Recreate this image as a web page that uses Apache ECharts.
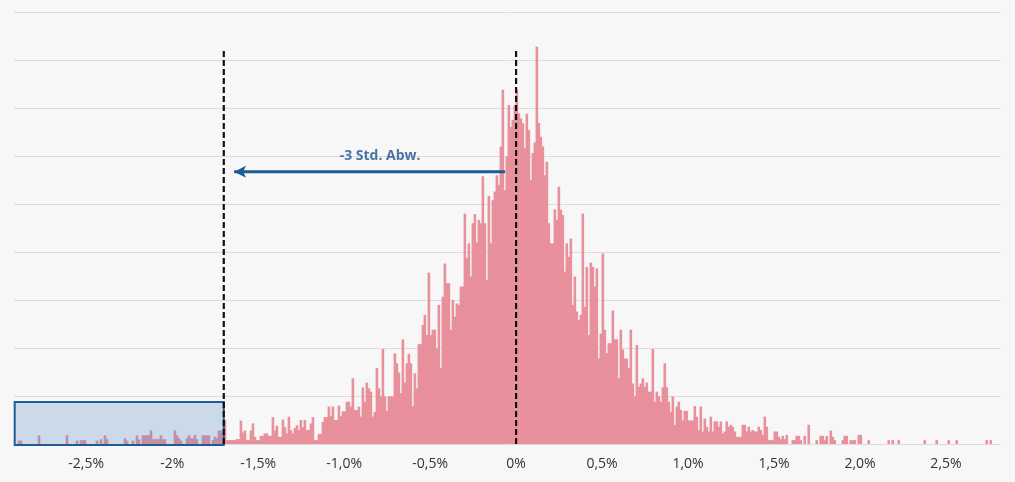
<!DOCTYPE html>
<html><head><meta charset="utf-8">
<script src="https://cdn.jsdelivr.net/npm/echarts@6/dist/echarts.min.js"></script>
<style>html,body{margin:0;padding:0;background:#f7f7f7;}#c{width:1015px;height:482px;}</style>
</head><body><div id="c"></div>
<script>
// Histogram of daily returns (%), uniform bins starting at binStart
const binStart = -2.92;
const binWidth = 0.011628;
const frequency = [
0,0,0.7,0.7,0,0,0,0,0,0,
0,0,1.8,0,0,0,0,0,0,0,
0,0,0,0,0,0,1.8,0,0,0,
0,0.7,0,0.8,0.8,0.8,0,0,0,0,
0,0.7,0,1.0,0,1.8,1.0,0,0,0,
0,0,0,0,0,1.2,0.7,0,0,0.7,
0,1.8,1.0,0,1.8,1.8,1.8,1.8,2.8,1.0,
1.0,1.0,1.0,1.8,1.0,1.0,0,0,0,0,
2.8,1.8,1.2,0.7,0,0,1.2,1.8,1.2,1.2,
1.9,1.0,0,0,1.8,1.8,1.8,1.8,0,0.8,
1.5,1.2,2.8,2.8,2.2,5.0,0.8,0.8,0.8,0.8,
0.8,1.0,1.0,4.9,2.4,2.8,0.8,0.8,2.8,4.3,
1.5,0.8,0.8,1.7,1.7,2.2,2.2,1.7,1.7,5.6,
2.8,3.8,1.5,1.5,5.1,3.5,2.2,5.7,2.9,2.2,
3.3,3.9,2.9,5.0,3.5,5.0,2.9,2.9,4.3,5.6,
0.8,0.8,2.1,2.1,4.6,5.6,5.6,7.8,5.8,7.8,
5.0,5.0,8.0,5.8,6.8,6.8,8.8,8.8,7.8,13.7,
7.1,7.1,7.8,5.7,11.8,8.8,12.8,11.6,10.9,5.7,
6.7,15.8,11.6,9.9,19.8,9.9,6.9,9.9,9.9,9.9,
18.9,16.8,14.9,10.6,21.8,12.8,16.8,18.8,16.8,7.9,
14.7,11.6,20.8,20.8,24.8,26.9,22.7,35.7,22.7,23.8,
23.8,19.9,29,15.8,30.7,37.6,33.5,33.5,23.8,30,
26.5,29.3,29,32.8,32.8,48,38.7,41.8,34.9,46,
47.9,42,46.7,46,55.8,46,34.2,51.7,41.8,50.8,
52.6,56,54,62,73.8,52.9,59.9,70.6,66.1,67.5,
70.6,73.8,68.9,67.8,66.8,61.6,68.8,65.4,55,60.6,
62.8,82.8,66.9,64,62,56,58.8,46,41.8,41.8,
48.9,46.7,53.6,48.8,47.7,35.9,41.8,39,42.8,29,
34.9,27.6,25.8,26.9,48,28.6,36.9,22.7,37.8,36.9,
32.8,36.6,17.8,23,39.7,23.8,18.9,21,21,27.8,
21.8,21.8,13.7,23.8,19.7,17.8,17.8,15.8,23.8,12.6,
9.9,20.6,11.9,12.6,13.7,11.9,12.8,10.9,10.9,19.8,
8.8,10.9,9.9,8.8,11.8,16.8,11.8,8.8,6.7,9.9,
4,7.8,8.8,7.1,4.9,6.9,6.9,4.9,4.9,4.9,
7.9,5.7,2.9,7.8,2.6,5.3,3.6,2.6,5.7,2.6,
4.7,4.7,3.6,4.7,2.2,2.6,4.7,3.6,4,3.6,
2.6,1.5,1.5,1.5,4,4,2.6,3.6,2.6,2.9,
2.6,2.6,3.6,2.9,1.9,5.7,3.6,0.8,0.8,0.8,
2.6,2.6,1.5,1.0,1.7,1.0,1.9,0,0,0.8,
0.8,1.7,1.7,0.8,0,1.7,0,4,0,0,
0,0.8,0,1.7,1.7,0.8,1.7,0,2.8,1.5,
0.8,0,0,0,0.8,1.7,1.7,0,0.8,0.8,
0.8,0,1.9,1.9,0,0,0,0.8,0,0,
0,0,0,0,0,0,0,0.8,0,0.8,
0,0,0.8,0,0,0,0,0,0,0,
0,0,0,0,0,0.8,0,0,0,0,
0,0.8,0,0,0,0,0,0.8,0,0,
0,0.8,0,0,0,0,0,0,0,0,
0,0,0,0,0,0,0.8,0,0.8,0,
0,0,0
];
const tickValues = [-2.5, -2, -1.5, -1, -0.5, 0, 0.5, 1, 1.5, 2, 2.5];
const tickLabels = ['-2,5%', '-2%', '-1,5%', '-1,0%', '-0,5%', '0%', '0,5%', '1,0%', '1,5%', '2,0%', '2,5%'];
const xMin = -2.92, xMax = 2.82;
const meanReturn = 0;
const minusThreeSigma = -1.70;
const tailBoxTop = 8.75;
const refLineTop = 82;
const arrowY = 56.7, arrowFrom = -0.064, arrowTo = -1.64;
const annotationText = '-3 Std. Abw.';
const annotationPos = [-0.791, 60];

const PINK = '#e8909b', BLUE = '#1e5b98';
const histData = frequency.map((v, i) => [binStart + (i + 0.5) * binWidth, v]);

const chart = echarts.init(document.getElementById('c'), null, {renderer: 'canvas'});
chart.setOption({
  animation: false,
  backgroundColor: '#f7f7f7',
  grid: {left: 14, right: 14, top: 12, bottom: 38, containLabel: false},
  xAxis: {
    type: 'value', min: xMin, max: xMax,
    axisLine: {show: false}, axisTick: {show: false}, splitLine: {show: false},
    axisLabel: {
      customValues: tickValues, margin: 13,
      fontFamily: 'Open Sans', fontSize: 14, color: '#333',
      formatter: v => { const k = tickValues.findIndex(t => Math.abs(t - v) < 1e-9); return k >= 0 ? tickLabels[k] : ''; }
    }
  },
  yAxis: {
    type: 'value', min: 0, max: 90, interval: 10,
    axisLabel: {show: false}, axisLine: {show: false}, axisTick: {show: false},
    splitLine: {lineStyle: {color: '#dcdcdc', width: 1}}
  },
  series: [
    {
      type: 'custom', z: 2, data: histData, encode: {x: 0, y: 1},
      renderItem: (params, api) => {
        const c = api.value(0), v = api.value(1);
        if (!v) return null;
        const p0 = api.coord([c - binWidth / 2, v]);
        const p1 = api.coord([c + binWidth / 2, 0]);
        return {type: 'rect', shape: {x: p0[0] - 0.3, y: p0[1], width: p1[0] - p0[0] + 0.6, height: p1[1] - p0[1]},
          style: {fill: PINK, stroke: null}};
      }
    },
    {
      type: 'custom', z: 5, clip: false, data: [[xMin + 0.004, minusThreeSigma, tailBoxTop]], encode: {x: [0, 1], y: 2},
      renderItem: (params, api) => {
        const p0 = api.coord([api.value(0), api.value(2)]);
        const p1 = api.coord([api.value(1), 0]);
        return {type: 'rect', shape: {x: p0[0], y: p0[1], width: p1[0] - p0[0], height: p1[1] - p0[1] + 1},
          style: {fill: 'rgba(90,140,195,0.28)', stroke: BLUE, lineWidth: 2}};
      }
    },
    {
      type: 'line', z: 6, symbol: 'none', silent: true,
      data: [[minusThreeSigma, 0], [minusThreeSigma, refLineTop]],
      lineStyle: {color: '#111', width: 2.2, type: [6, 3]}
    },
    {
      type: 'line', z: 6, symbol: 'none', silent: true,
      data: [[meanReturn, 0], [meanReturn, refLineTop]],
      lineStyle: {color: '#111', width: 2.2, type: [6, 3]}
    },
    {
      type: 'line', z: 7, silent: true,
      data: [
        {value: [arrowFrom, arrowY], symbol: 'none'},
        {value: [arrowTo, arrowY], symbol: 'arrow', symbolSize: [9, 12], symbolRotate: 90}
      ],
      lineStyle: {color: BLUE, width: 3},
      itemStyle: {color: BLUE}
    },
    {
      type: 'scatter', z: 8, silent: true, symbolSize: 0,
      data: [annotationPos],
      label: {show: true, position: 'inside', formatter: annotationText,
        fontFamily: 'Open Sans', fontWeight: 'bold', fontSize: 14, color: '#1a5290'}
    }
  ]
});
</script></body></html>
